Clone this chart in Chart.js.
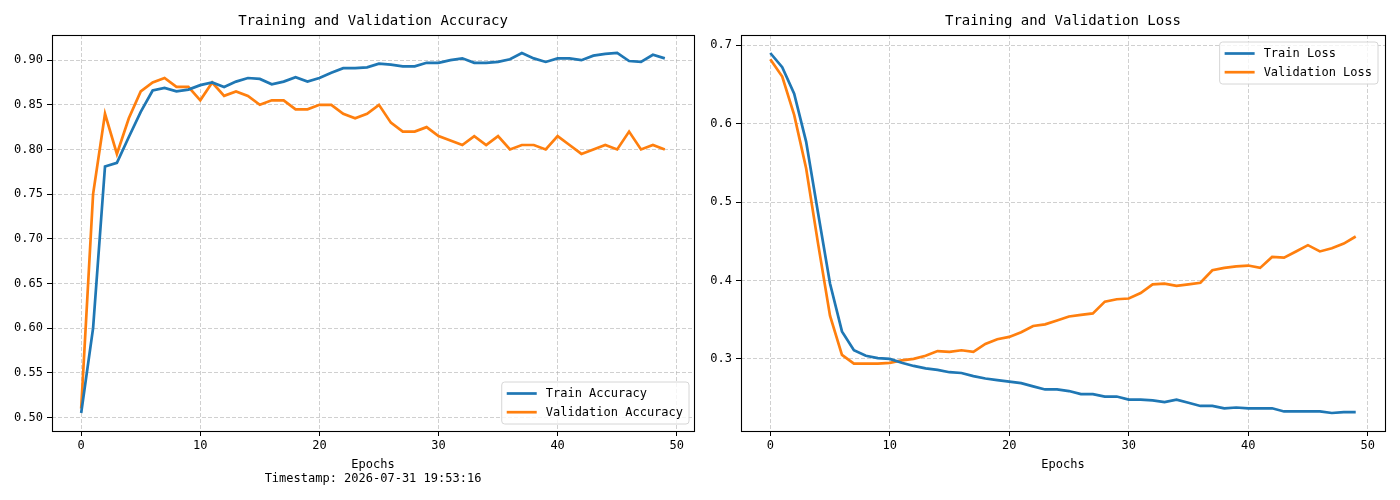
<!DOCTYPE html>
<html>
<head>
<meta charset="utf-8">
<script src="https://cdn.jsdelivr.net/npm/chart.js@4.4.1/dist/chart.umd.min.js"></script>
<style>
  html, body { margin: 0; padding: 0; background: #ffffff; }
  #wrap { position: relative; width: 1400px; height: 500px; background: #fff; overflow: hidden; }
  canvas { position: absolute; top: 0; }
  #cAcc { left: 0; }
  #cLoss { left: 700px; }
</style>
</head>
<body>
<div id="wrap">
  <canvas id="cAcc" width="700" height="500"></canvas>
  <canvas id="cLoss" width="700" height="500"></canvas>
</div>
<script>
// ---------------- DATA ----------------
const epochs = [0,1,2,3,4,5,6,7,8,9,10,11,12,13,14,15,16,17,18,19,20,21,22,23,24,25,26,27,28,29,30,31,32,33,34,35,36,37,38,39,40,41,42,43,44,45,46,47,48,49];

const trainAcc = [0.505,0.600,0.781,0.785,0.814,0.842,0.866,0.869,0.865,0.867,0.872,0.875,0.870,0.876,0.880,0.879,0.873,0.876,0.881,0.876,0.880,0.886,0.891,0.891,0.892,0.896,0.895,0.893,0.893,0.897,0.897,0.900,0.902,0.897,0.897,0.898,0.901,0.908,0.902,0.898,0.902,0.902,0.900,0.905,0.907,0.908,0.899,0.898,0.906,0.902];
const valAcc = [0.510,0.750,0.840,0.795,0.835,0.865,0.875,0.880,0.870,0.870,0.855,0.875,0.860,0.865,0.860,0.850,0.855,0.855,0.845,0.845,0.850,0.850,0.840,0.835,0.840,0.850,0.830,0.820,0.820,0.825,0.815,0.810,0.805,0.815,0.805,0.815,0.800,0.805,0.805,0.800,0.815,0.805,0.795,0.800,0.805,0.800,0.820,0.800,0.805,0.800];

const trainLoss = [0.690,0.672,0.638,0.577,0.486,0.396,0.335,0.311,0.304,0.301,0.300,0.295,0.291,0.288,0.286,0.283,0.282,0.278,0.275,0.273,0.271,0.269,0.265,0.261,0.261,0.259,0.255,0.255,0.252,0.252,0.248,0.248,0.247,0.245,0.248,0.244,0.240,0.240,0.237,0.238,0.237,0.237,0.237,0.233,0.233,0.233,0.233,0.231,0.232,0.232];
const valLoss = [0.682,0.660,0.611,0.543,0.447,0.355,0.305,0.294,0.294,0.294,0.295,0.298,0.300,0.304,0.310,0.309,0.311,0.309,0.319,0.325,0.328,0.334,0.342,0.344,0.349,0.354,0.356,0.358,0.373,0.376,0.377,0.384,0.395,0.396,0.393,0.395,0.397,0.413,0.416,0.418,0.419,0.416,0.430,0.429,0.437,0.445,0.437,0.441,0.447,0.456];

const xTicks = [0,10,20,30,40,50];
const accYTicks = [0.50,0.55,0.60,0.65,0.70,0.75,0.80,0.85,0.90];
const lossYTicks = [0.3,0.4,0.5,0.6,0.7];

const accTitle = 'Training and Validation Accuracy';
const lossTitle = 'Training and Validation Loss';
const accSeriesNames = ['Train Accuracy','Validation Accuracy'];
const lossSeriesNames = ['Train Loss','Validation Loss'];
const xLabelAcc = ['Epochs','Timestamp: 2026-07-31 19:53:16'];
const xLabelLoss = 'Epochs';

// ---------------- STYLE ----------------
const FONT = "'DejaVu Sans Mono', 'Liberation Mono', monospace";
const BLUE = '#1f77b4';
const ORANGE = '#ff7f0e';
const GRID = 'rgba(176,176,176,0.6)';

function pts(xs, ys) { return xs.map((x, i) => ({x: x, y: ys[i]})); }
function margins(arrs) {
  const all = [].concat(...arrs);
  const mn = Math.min(...all), mx = Math.max(...all);
  const p = (mx - mn) * 0.05;
  return [mn - p, mx + p];
}

const framePlugin = {
  id: 'frame',
  afterDraw(chart) {
    const a = chart.chartArea, ctx = chart.ctx;
    ctx.save();
    ctx.strokeStyle = '#000';
    ctx.lineWidth = 1.1;
    ctx.setLineDash([]);
    ctx.strokeRect(Math.round(a.left) + 0.5, Math.round(a.top) + 0.5,
                   Math.round(a.right - a.left), Math.round(a.bottom - a.top));
    ctx.restore();
  }
};

const boxLegendPlugin = {
  id: 'boxLegend',
  afterDraw(chart, args, opts) {
    const ctx = chart.ctx, a = chart.chartArea;
    const ds = chart.data.datasets;
    ctx.save();
    ctx.font = '12px ' + FONT;
    let tw = 0;
    ds.forEach(d => { tw = Math.max(tw, ctx.measureText(d.label).width); });
    const w = 44 + tw + 6, h = 42;
    const x = a.right - opts.padRight - w;
    const y = opts.loc === 'lower' ? a.bottom - opts.padV - h : a.top + opts.padV;
    // box
    ctx.beginPath();
    const r = 3;
    ctx.moveTo(x + r, y);
    ctx.lineTo(x + w - r, y); ctx.quadraticCurveTo(x + w, y, x + w, y + r);
    ctx.lineTo(x + w, y + h - r); ctx.quadraticCurveTo(x + w, y + h, x + w - r, y + h);
    ctx.lineTo(x + r, y + h); ctx.quadraticCurveTo(x, y + h, x, y + h - r);
    ctx.lineTo(x, y + r); ctx.quadraticCurveTo(x, y, x + r, y);
    ctx.closePath();
    ctx.fillStyle = 'rgba(255,255,255,0.8)';
    ctx.fill();
    ctx.strokeStyle = '#d6d6d6';
    ctx.lineWidth = 1;
    ctx.stroke();
    ds.forEach((d, i) => {
      const cy = y + 11.5 + i * 18.7;
      ctx.beginPath();
      ctx.strokeStyle = d.borderColor;
      ctx.lineWidth = 2.7;
      ctx.moveTo(x + 5, cy);
      ctx.lineTo(x + 35, cy);
      ctx.stroke();
      ctx.fillStyle = '#000';
      ctx.textBaseline = 'middle';
      ctx.textAlign = 'left';
      ctx.fillText(d.label, x + 44, cy + 0.5);
    });
    ctx.restore();
  }
};

function makeChart(canvasId, cfg) {
  const [ymin, ymax] = margins(cfg.series);
  const [xmin, xmax] = margins([epochs]);
  return new Chart(document.getElementById(canvasId), {
    type: 'line',
    data: {
      datasets: [
        { label: cfg.names[0], data: pts(epochs, cfg.series[0]), borderColor: BLUE, backgroundColor: BLUE,
          borderWidth: 2.7, pointRadius: 0, tension: 0, fill: false },
        { label: cfg.names[1], data: pts(epochs, cfg.series[1]), borderColor: ORANGE, backgroundColor: ORANGE,
          borderWidth: 2.7, pointRadius: 0, tension: 0, fill: false }
      ]
    },
    options: {
      responsive: false,
      animation: false,
      devicePixelRatio: 1,
      layout: { padding: { left: 0, right: cfg.padRight, top: 0, bottom: 0 } },
      plugins: {
        legend: { display: false },
        tooltip: { enabled: false },
        title: {
          display: true, text: cfg.title, fullSize: false,
          color: '#000', font: { family: FONT, size: 14, weight: 'normal' },
          padding: { top: 13, bottom: 5.2 }
        },
        boxLegend: cfg.legend
      },
      scales: {
        x: {
          type: 'linear', position: 'bottom', min: xmin, max: xmax,
          afterBuildTicks(s) { s.ticks = xTicks.map(v => ({value: v})); },
          afterFit(s) { s.height = 69; },
          ticks: { color: '#000', font: { family: FONT, size: 12 }, padding: 3, maxRotation: 0,
                   callback: v => String(v) },
          grid: { color: GRID, lineWidth: 1, drawTicks: true, tickLength: 5, tickColor: '#000', tickWidth: 1, tickBorderDash: [] },
          border: { display: false, dash: [4, 2] },
          title: { display: true, text: cfg.xLabel, color: '#000', font: { family: FONT, size: 12, lineHeight: 1.2 },
                   padding: { top: 0, bottom: cfg.xTitlePadBottom } }
        },
        y: {
          type: 'linear', position: 'left', min: ymin, max: ymax,
          afterBuildTicks(s) { s.ticks = cfg.yTicks.map(v => ({value: v})); },
          afterFit(s) { s.width = cfg.yWidth; },
          ticks: { color: '#000', font: { family: FONT, size: 12 }, padding: 4,
                   callback: v => v.toFixed(cfg.decimals) },
          grid: { color: GRID, lineWidth: 1, drawTicks: true, tickLength: 5, tickColor: '#000', tickWidth: 1, tickBorderDash: [] },
          border: { display: false, dash: [4, 2] }
        }
      }
    },
    plugins: [framePlugin, boxLegendPlugin]
  });
}

makeChart('cAcc', {
  series: [trainAcc, valAcc], names: accSeriesNames, title: accTitle,
  yTicks: accYTicks, decimals: 2, yWidth: 52, padRight: 6,
  xLabel: xLabelAcc, xTitlePadBottom: 13.5,
  legend: { loc: 'lower', padRight: 5, padV: 7 }
});

makeChart('cLoss', {
  series: [trainLoss, valLoss], names: lossSeriesNames, title: lossTitle,
  yTicks: lossYTicks, decimals: 1, yWidth: 41, padRight: 15,
  xLabel: xLabelLoss, xTitlePadBottom: 27.8,
  legend: { loc: 'upper', padRight: 7, padV: 7 }
});
</script>
</body>
</html>
